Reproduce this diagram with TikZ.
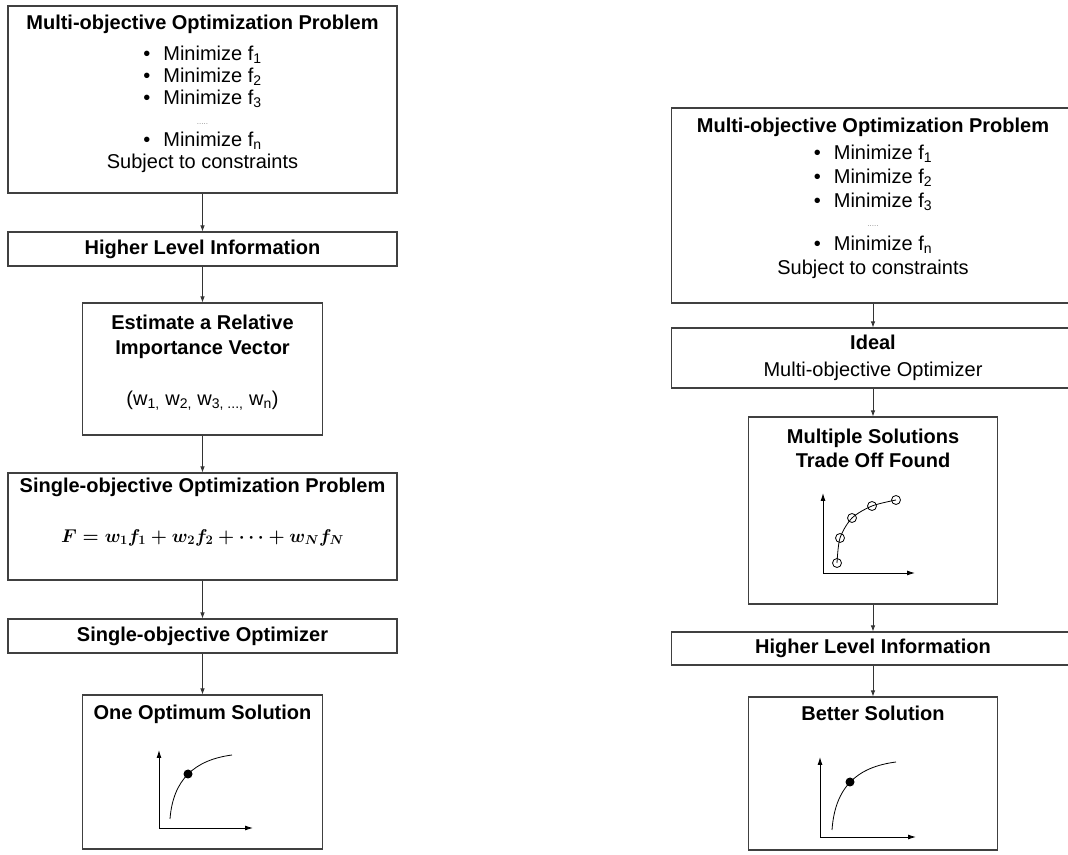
\documentclass[tikz,border=0pt]{standalone}
\usepackage{fix-cm}
\usepackage{fontspec}
\setmainfont{Liberation Sans}
\usetikzlibrary{positioning,arrows.meta}

\tikzset{
  box/.style={draw=black!75, line width=1.1pt, inner sep=0pt},
  wideL/.style={box, minimum width=389pt},
  narrowL/.style={box, minimum width=240pt},
  wideR/.style={box, minimum width=403pt},
  narrowR/.style={box, minimum width=249pt},
  head/.style={inner sep=0pt, font=\fontsize{20}{24}\selectfont\bfseries},
  txt/.style={inner sep=0pt, align=center},
  link/.style={->, draw=black!80, line width=0.8pt},
  axes/.style={{Latex[length=8pt,width=5pt]}-{Latex[length=8pt,width=5pt]}, line width=0.9pt}
}

\begin{document}
\begin{tikzpicture}[x=1pt, y=1pt, >={Latex[length=6pt,width=4.5pt]}, font=\fontsize{20}{22}\selectfont]
    \useasboundingbox (0,0) rectangle (1068,854);
    \clip (0,0) rectangle (1068,854);

    \node[wideL, minimum height=187pt] (mopL) at (202.5,754.5) {};
    \node[txt, below=9pt of mopL.north] (mopLtxt) {\textbf{Multi-objective Optimization Problem}\\[9pt]
        \textbullet\hspace{13pt}Minimize f\textsubscript{1}\\
        \textbullet\hspace{13pt}Minimize f\textsubscript{2}\\
        \textbullet\hspace{13pt}Minimize f\textsubscript{3}\\[-2pt]
        {\fontsize{8}{8}\selectfont\color{black!45}.....}\\
        \textbullet\hspace{13pt}Minimize f\textsubscript{n}\\
        Subject to constraints};
    \node[wideL, minimum height=34pt, head] (hliL) at (202.5,605) {Higher Level Information};
    \node[narrowL, minimum height=132pt] (riv) at (202.5,485) {};
    \node[txt, font=\fontsize{20}{25}\selectfont, below=12pt of riv.north] (rivtxt) {\textbf{Estimate a Relative}\\
        \textbf{Importance Vector}\\[26pt]
        (w\textsubscript{1,} w\textsubscript{2,} w\textsubscript{3, ...,} w\textsubscript{n})};
    \node[wideL, minimum height=107pt] (sop) at (202.5,327.5) {};
    \node[txt, font=\fontsize{20}{24}\selectfont, below=5pt of sop.north] (soptxt) {\textbf{Single-objective Optimization Problem}\\[26pt]
        {\fontsize{18.5}{24}\selectfont\boldmath$F = w_1 f_1 + w_2 f_2 + \cdots + w_N f_N$}};
    \node[wideL, minimum height=34pt, head] (soo) at (202.5,218) {Single-objective Optimizer};
    \node[narrowL, minimum height=154pt] (oos) at (202.5,82) {};
    \node[head, below=10pt of oos.north] (oostxt) {One Optimum Solution};
    \draw[axes] (159,104) |- (253,26);
    \draw[line width=0.8pt] (170,35) .. controls (173,74) and (194,94) .. (232,99);
    \fill (188,80) circle (4.5pt);

    \draw[link] (mopL) -- (hliL);
    \draw[link] (hliL) -- (riv);
    \draw[link] (riv) -- (sop);
    \draw[link] (sop) -- (soo);
    \draw[link] (soo) -- (oos);

    \node[wideR, minimum height=195pt] (mopR) at (873,648.5) {};
    \node[txt, font=\fontsize{20}{24}\selectfont, below=10pt of mopR.north] (mopRtxt) {\textbf{Multi-objective Optimization Problem}\\[3pt]
        \textbullet\hspace{13pt}Minimize f\textsubscript{1}\\
        \textbullet\hspace{13pt}Minimize f\textsubscript{2}\\
        \textbullet\hspace{13pt}Minimize f\textsubscript{3}\\[-5pt]
        {\fontsize{8}{8}\selectfont\color{black!45}.....}\\
        \textbullet\hspace{13pt}Minimize f\textsubscript{n}\\
        Subject to constraints};
    \node[wideR, minimum height=60pt, align=center, font=\fontsize{20}{27}\selectfont] (imo) at (873,496) {\textbf{Ideal}\\Multi-objective Optimizer};
    \node[narrowR, minimum height=187pt] (msol) at (873,343.5) {};
    \node[txt, font=\fontsize{20}{24}\selectfont\bfseries, below=12pt of msol.north] (msoltxt) {Multiple Solutions\\Trade Off Found};
    \draw[axes] (823,361) |- (915,281);
    \draw[line width=0.8pt] plot[smooth] coordinates {(837,291) (840,316) (852,336) (872,348) (896,354)};
    \draw[line width=0.8pt] (837,291) circle (4.5pt) (840,316) circle (4.5pt) (852,336) circle (4.5pt)
        (872,348) circle (4.5pt) (896,354) circle (4.5pt);
    \node[wideR, minimum height=33pt, head] (hliR) at (873,205.5) {Higher Level Information};
    \node[narrowR, minimum height=153pt] (bsol) at (873,80.5) {};
    \node[head, below=9pt of bsol.north] (bsoltxt) {Better Solution};
    \draw[axes] (820,97) |- (916,17);
    \draw[line width=0.8pt] (832,24) .. controls (835,67) and (857,87) .. (896,92);
    \fill (850,72) circle (4.5pt);

    \draw[link] (mopR) -- (imo);
    \draw[link] (imo) -- (msol);
    \draw[link] (msol) -- (hliR);
    \draw[link] (hliR) -- (bsol);
\end{tikzpicture}
\end{document}
